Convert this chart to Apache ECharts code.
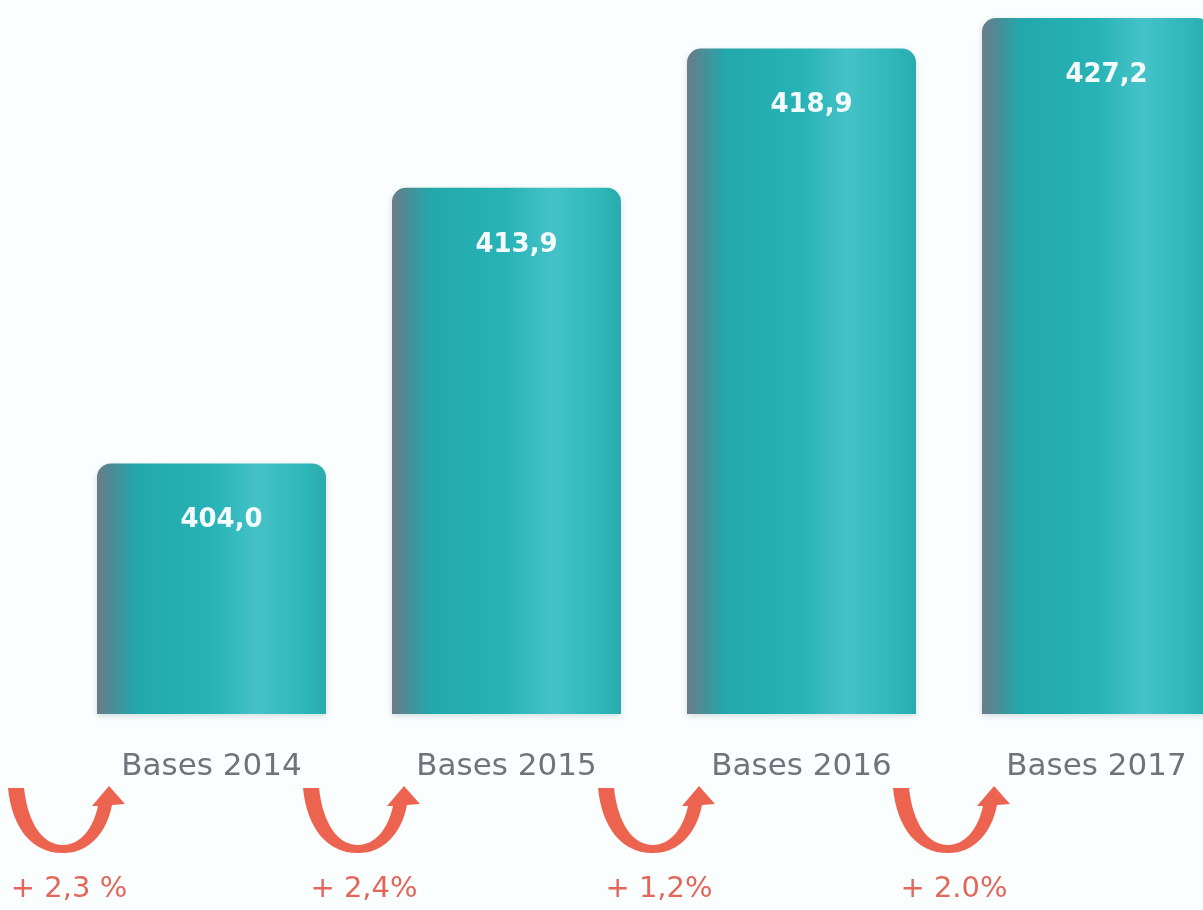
<!DOCTYPE html>
<html>
<head>
<meta charset="utf-8">
<script src="https://cdn.jsdelivr.net/npm/echarts@6/dist/echarts.min.js"></script>
<style>
html,body{margin:0;padding:0;background:#fbfefe;}
#main{width:1203px;height:910px;}
</style>
</head>
<body>
<div id="main"></div>
<script>
var categories = ['Bases 2014', 'Bases 2015', 'Bases 2016', 'Bases 2017'];
var values = [404.0, 413.9, 418.9, 427.2];
var valueLabels = ['404,0', '413,9', '418,9', '427,2'];
var growthLabels = ['+ 2,3 %', '+ 2,4%', '+ 1,2%', '+ 2.0%'];
var yMin = 395, yMax = 420;

var chart = echarts.init(document.getElementById('main'));

var barGradient = new echarts.graphic.LinearGradient(0, 0, 1, 0, [
  {offset: 0, color: '#6b7c88'},
  {offset: 0.07, color: '#4a8d97'},
  {offset: 0.17, color: '#22a8ac'},
  {offset: 0.5, color: '#27b3b6'},
  {offset: 0.7, color: '#45c2c8'},
  {offset: 0.9, color: '#2eb7b9'},
  {offset: 1, color: '#2aabad'}
]);

function arrowPath() {
  return 'M -60 74 L -44 74 ' +
    'C -40 110 -25 131 -5 131 ' +
    'C 12 131 25 115 30 92 ' +
    'L 24 92 L 41 72 L 57 90 L 44 91 ' +
    'C 38 122 18 140 -6 139 ' +
    'C -35 139 -56 115 -60 74 Z';
}

chart.setOption({
  backgroundColor: '#fbfefe',
  animation: false,
  grid: {left: 64, top: 18, width: 1180, bottom: 196, outerBoundsMode: 'none', containLabel: false},
  xAxis: {
    type: 'category',
    data: categories,
    axisLine: {show: false},
    axisTick: {show: false},
    axisLabel: {
      margin: 37,
      fontFamily: 'DejaVu Sans',
      fontSize: 31,
      color: '#6f747c'
    }
  },
  yAxis: {
    type: 'value',
    min: yMin,
    max: yMax,
    show: false,
    splitLine: {show: false}
  },
  series: [
    {
      type: 'bar',
      data: values,
      barWidth: 229,
      clip: true,
      itemStyle: {
        color: barGradient,
        borderRadius: [14, 14, 0, 0],
        shadowColor: 'rgba(80,120,130,0.25)',
        shadowBlur: 6,
        shadowOffsetY: 2
      },
      label: {
        show: true,
        position: 'insideTop',
        distance: 44,
        offset: [10, 0],
        fontFamily: 'DejaVu Sans',
        fontWeight: 'bold',
        fontSize: 26,
        color: '#f4fbfb',
        formatter: function (p) { return valueLabels[p.dataIndex]; }
      }
    },
    {
      type: 'custom',
      data: [[0], [1], [2], [3]],
      clip: false,
      silent: true,
      renderItem: function (params, api) {
        var p = api.coord([api.value(0), yMin]);
        var band = api.size([1, 0])[0];
        var cx = p[0] - band / 2 + 4;
        var yb = p[1];
        return {
          type: 'group',
          x: cx,
          y: yb,
          children: [
            {
              type: 'path',
              shape: {pathData: arrowPath()},
              style: {fill: '#ec6450'}
            },
            {
              type: 'text',
              x: 1,
              y: 175,
              style: {
                text: growthLabels[params.dataIndex],
                fontFamily: 'DejaVu Sans',
                fontSize: 29,
                fontWeight: 500,
                fill: '#e2675a',
                align: 'center',
                verticalAlign: 'middle'
              }
            }
          ]
        };
      }
    }
  ]
});
</script>
</body>
</html>
